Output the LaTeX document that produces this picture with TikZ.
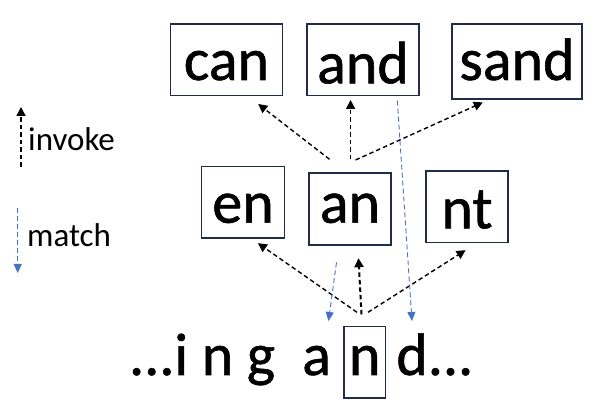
\documentclass[tikz,border=0pt]{standalone}
\usepackage{fontspec}
\setmainfont{Carlito}
\newfontfamily\wordfont[FakeBold=1]{Carlito}
\usetikzlibrary{arrows.meta,positioning}
\definecolor{boxnavy}{RGB}{32,44,72}
\definecolor{matchblue}{RGB}{68,114,196}
\begin{document}
\begin{tikzpicture}[
            x=1pt,y=1pt,
            wordbox/.style={draw=boxnavy, line width=1.4pt, inner sep=0pt, anchor=base, font=\wordfont\fontsize{60}{62}\selectfont},
            plainword/.style={inner sep=0pt, font=\wordfont\fontsize{60}{62}\selectfont},
            legendword/.style={inner sep=0pt, anchor=base west, font=\fontsize{33}{36}\selectfont},
            invoke/.style={dash pattern=on 4.5pt off 3pt, line width=1.4pt, -{Triangle[length=9pt,width=9pt]}},
            match/.style={draw=matchblue, dash pattern=on 5pt off 3pt, line width=0.9pt, -{Triangle[length=9pt,width=8pt]}}
        ]
        \useasboundingbox (0,0) rectangle (598,414);
        % top row
        \node[wordbox, minimum width=112pt, text height=56pt, text depth=15.3pt] (can) at (226.5,334) {can};
        \node[wordbox, minimum width=112pt, text height=59.3pt, text depth=12pt] (and) at (363,330.7) {and};
        \node[wordbox, minimum width=130pt, text height=56pt, text depth=19pt] (sand) at (517,334) {sand};
        % middle row
        \node[wordbox, minimum width=83pt, text height=56pt, text depth=15.3pt] (en) at (243,191.3) {en};
        \node[wordbox, minimum width=82pt, text height=49.7pt, text depth=22.3pt] (an) at (350,191.3) {an};
        \node[wordbox, minimum width=82pt, text height=57.3pt, text depth=14.4pt] (nt) at (467,185.7) {nt};
        % text line
        \node[wordbox, minimum width=41.5pt, text height=48.3pt, text depth=23pt] (n) at (364.7,39) {n};
        \node[plainword, anchor=base east] (ing) at ([xshift=-12pt]n.base west) {...i n g~~a};
        \node[plainword, anchor=base west] (dots) at ([xshift=10pt]n.base east) {d...};
        % invoke
        \draw[invoke] ([shift={(-20.5,13)}]an.north) -- ([shift={(-25,-8)}]can.south east);
        \draw[invoke] ([shift={(0.6,13)}]an.north) -- ([shift={(-12.4,-4)}]and.south);
        \draw[invoke] ([shift={(5.6,12.3)}]an.north) -- ([shift={(31.5,-2.7)}]sand.south west);
        \draw[invoke] ([shift={(-7.7,13.7)}]n.north) -- ([shift={(-27.3,-4.5)}]en.south east);
        \draw[invoke, line width=2pt] ([shift={(-3.2,11.7)}]n.north) -- ([shift={(8.5,-12.5)}]an.south);
        \draw[invoke] ([shift={(3.3,13.7)}]n.north) -- ([shift={(40.3,-6.8)}]nt.south west);
        % match
        \draw[match] ([shift={(-13.5,-16.7)}]an.south) -- ([shift={(-36.2,5)}]n.north);
        \draw[match] ([shift={(34.3,-4.7)}]and.south) -- ([shift={(47.3,5)}]n.north);
        % legend
        \coordinate (invokeBottom) at (21,247.3);
        \coordinate (invokeTop) at (21,307);
        \draw[invoke, line width=1.5pt] (invokeBottom) -- (invokeTop);
        \node[legendword] (invokeText) at (28,263.3) {invoke};
        \coordinate (matchTop) at (17.7,206);
        \coordinate (matchBottom) at (17.7,141);
        \draw[match, line width=1.2pt] (matchTop) -- (matchBottom);
        \node[legendword] (matchText) at (27,167.3) {match};
    \end{tikzpicture}
\end{document}
